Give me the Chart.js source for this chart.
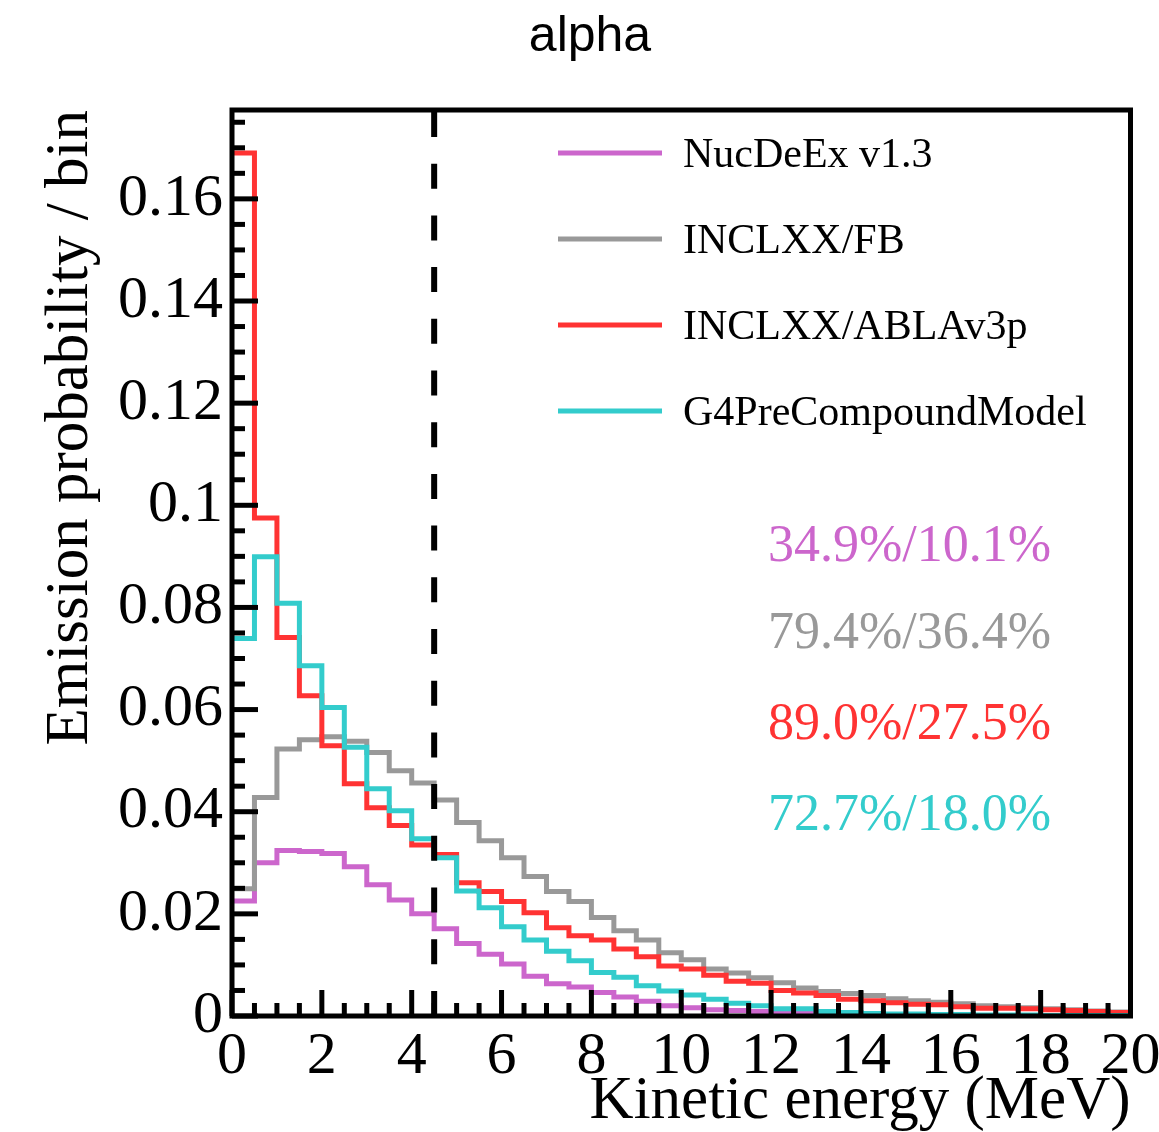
<!DOCTYPE html>
<html lang="en">
<head>
  <meta charset="UTF-8" />
  <title>alpha - emission probability</title>
  <style>
    html, body { margin: 0; padding: 0; background: #fff; }
    #wrap { width: 1159px; height: 1132px; }
  </style>
  <script src="https://cdn.jsdelivr.net/npm/chart.js"></script>
</head>
<body>
  <div id="wrap"><canvas id="alphaChart" width="1159" height="1132"></canvas></div>

  <script>
    // bin layout: 40 bins of 0.5 MeV from 0 to 20 MeV
    const xMin = 0;
    const xMax = 20;
    const binWidth = 0.5;
    const yMax = 0.1774;
    const cutEnergy = 4.5;

    const xTickValues = [0, 2, 4, 6, 8, 10, 12, 14, 16, 18, 20];
    const xTickLabels = ['0', '2', '4', '6', '8', '10', '12', '14', '16', '18', '20'];
    const yTickValues = [0, 0.02, 0.04, 0.06, 0.08, 0.1, 0.12, 0.14, 0.16];
    const yTickLabels = ['0', '0.02', '0.04', '0.06', '0.08', '0.1', '0.12', '0.14', '0.16'];

    const seriesNames = ['NucDeEx v1.3', 'INCLXX/FB', 'INCLXX/ABLAv3p', 'G4PreCompoundModel'];
    const seriesColors = ['#cc66cc', '#999999', '#ff3333', '#33cccc'];
    const effLabels = ['34.9%/10.1%', '79.4%/36.4%', '89.0%/27.5%', '72.7%/18.0%'];

    // emission probability per bin
    const nucdeex = [0.0225, 0.0300, 0.0324, 0.0322, 0.0318, 0.0292, 0.0257, 0.0227, 0.0200, 0.0171,
                     0.0142, 0.0121, 0.0102, 0.0078, 0.0063, 0.0057, 0.0046, 0.0037, 0.0029, 0.0020,
                     0.0016, 0.0012, 0.0011, 0.0009, 0.0007, 0.0005, 0.0004, 0.0003, 0.0003, 0.0002,
                     0.0002, 0.0002, 0.0001, 0.0001, 0.0001, 0.0001, 0.0001, 0.0001, 0.0000, 0.0000];
    const inclFB  = [0.0249, 0.0428, 0.0523, 0.0541, 0.0547, 0.0538, 0.0516, 0.0480, 0.0456, 0.0423,
                     0.0379, 0.0343, 0.0310, 0.0273, 0.0244, 0.0224, 0.0193, 0.0167, 0.0149, 0.0124,
                     0.0110, 0.0092, 0.0084, 0.0075, 0.0065, 0.0055, 0.0048, 0.0044, 0.0040, 0.0034,
                     0.0030, 0.0027, 0.0024, 0.0020, 0.0018, 0.0016, 0.0014, 0.0012, 0.0010, 0.0008];
    const inclABLA = [0.1690, 0.0975, 0.0741, 0.0627, 0.0529, 0.0455, 0.0408, 0.0373, 0.0335, 0.0316,
                      0.0261, 0.0244, 0.0224, 0.0202, 0.0173, 0.0157, 0.0149, 0.0131, 0.0116, 0.0098,
                      0.0092, 0.0080, 0.0068, 0.0064, 0.0050, 0.0045, 0.0040, 0.0033, 0.0030, 0.0026,
                      0.0023, 0.0022, 0.0018, 0.0015, 0.0015, 0.0014, 0.0012, 0.0011, 0.0009, 0.0007];
    const g4Pre   = [0.0739, 0.0899, 0.0808, 0.0686, 0.0604, 0.0526, 0.0445, 0.0402, 0.0347, 0.0310,
                     0.0245, 0.0212, 0.0175, 0.0149, 0.0127, 0.0108, 0.0085, 0.0076, 0.0059, 0.0049,
                     0.0041, 0.0033, 0.0025, 0.0020, 0.0014, 0.0014, 0.0009, 0.0007, 0.0005, 0.0004,
                     0.0004, 0.0003, 0.0003, 0.0002, 0.0002, 0.0002, 0.0001, 0.0001, 0.0001, 0.0001];

    const allSeries = [nucdeex, inclFB, inclABLA, g4Pre];

    // histogram as step line: one point per bin low edge plus closing point at xMax
    function toSteps(vals) {
      const pts = vals.map((v, i) => ({ x: xMin + i * binWidth, y: v }));
      pts.push({ x: xMax, y: vals[vals.length - 1] });
      return pts;
    }

    const serif = "'Liberation Serif', 'DejaVu Serif', serif";

    // ROOT-like frame, inward ticks, cut line, legend and labels
    const rootDecor = {
      id: 'rootDecor',
      afterDatasetsDraw(chart) {
        const { ctx, chartArea: a, scales: { x, y } } = chart;
        ctx.save();

        // dashed line at the cut energy
        const cx = x.getPixelForValue(cutEnergy);
        ctx.strokeStyle = '#000';
        ctx.lineWidth = 6;
        ctx.setLineDash([25, 26.7]);
        ctx.beginPath();
        ctx.moveTo(cx, a.top + 2);
        ctx.lineTo(cx, a.bottom);
        ctx.stroke();
        ctx.setLineDash([]);

        // ticks (inside, left + bottom)
        ctx.lineWidth = 5;
        for (let k = 0; k * 0.005 <= yMax + 1e-9; k++) {
          const py = y.getPixelForValue(k * 0.005);
          const len = k % 4 === 0 ? 26 : 13;
          ctx.beginPath();
          ctx.moveTo(a.left, py);
          ctx.lineTo(a.left + len, py);
          ctx.stroke();
        }
        for (let k = 0; k * binWidth <= xMax + 1e-9; k++) {
          const px = x.getPixelForValue(k * binWidth);
          const len = k % 4 === 0 ? 26 : 13;
          ctx.beginPath();
          ctx.moveTo(px, a.bottom);
          ctx.lineTo(px, a.bottom - len);
          ctx.stroke();
        }

        // frame
        ctx.lineWidth = 5;
        ctx.strokeRect(a.left, a.top, a.right - a.left, a.bottom - a.top);
        ctx.restore();
      },
      afterDraw(chart) {
        const { ctx } = chart;
        ctx.save();

        // title
        ctx.fillStyle = '#000';
        ctx.font = "50px 'Liberation Sans', Arial, sans-serif";
        ctx.textAlign = 'center';
        ctx.textBaseline = 'alphabetic';
        ctx.fillText('alpha', 590, 51);

        // legend
        const rowY = [153, 239, 325, 411];
        ctx.font = '42px ' + serif;
        ctx.textAlign = 'left';
        ctx.textBaseline = 'middle';
        seriesNames.forEach((name, i) => {
          ctx.strokeStyle = seriesColors[i];
          ctx.lineWidth = 5;
          ctx.beginPath();
          ctx.moveTo(558, rowY[i]);
          ctx.lineTo(662, rowY[i]);
          ctx.stroke();
          ctx.fillStyle = '#000';
          ctx.fillText(name, 683, rowY[i] + 3);
        });

        // efficiency labels
        const effY = [547, 634, 725, 816];
        ctx.font = '52px ' + serif;
        ctx.textAlign = 'right';
        effLabels.forEach((t, i) => {
          ctx.fillStyle = seriesColors[i];
          ctx.fillText(t, 1051, effY[i]);
        });
        ctx.restore();
      }
    };

    const datasets = allSeries.map((vals, i) => ({
      label: seriesNames[i],
      data: toSteps(vals),
      borderColor: seriesColors[i],
      backgroundColor: seriesColors[i],
      borderWidth: 5,
      stepped: 'before',
      pointRadius: 0,
      fill: false,
      order: 4 - i   // later series on top, like ROOT draw order
    }));

    const ctx = document.getElementById('alphaChart').getContext('2d');
    const chart = new Chart(ctx, {
      type: 'line',
      data: { datasets },
      options: {
        responsive: false,
        animation: false,
        devicePixelRatio: 1,
        layout: { padding: { top: 110, right: 28.5, bottom: 0, left: 0 } },
        plugins: {
          legend: { display: false },
          tooltip: { enabled: false },
          title: { display: false }
        },
        scales: {
          x: {
            type: 'linear',
            min: xMin,
            max: xMax,
            grid: { display: false, drawTicks: false },
            border: { display: false },
            afterBuildTicks: s => { s.ticks = xTickValues.map(v => ({ value: v })); },
            // fixed height; let the "20" label hang past the frame like in ROOT
            afterFit: s => { s.height = 116; s.paddingLeft = 0; s.paddingRight = 0; },
            ticks: {
              autoSkip: false,
              maxRotation: 0,
              padding: 11,
              color: '#000',
              font: { family: serif, size: 60, lineHeight: 1 },
              callback: (v, i) => xTickLabels[i]
            },
            title: {
              display: true,
              text: 'Kinetic energy (MeV)',
              align: 'end',
              color: '#000',
              font: { family: serif, size: 61, lineHeight: 1 },
              padding: { top: 0, bottom: 0 }
            }
          },
          y: {
            type: 'linear',
            min: 0,
            max: yMax,
            grid: { display: false, drawTicks: false },
            border: { display: false },
            afterBuildTicks: s => { s.ticks = yTickValues.map(v => ({ value: v })); },
            afterFit: s => { s.width = 232; },
            ticks: {
              autoSkip: false,
              padding: 9,
              color: '#000',
              font: { family: serif, size: 60, lineHeight: 1 },
              callback: (v, i) => yTickLabels[i]
            },
            title: {
              display: true,
              text: 'Emission probability / bin',
              align: 'end',
              color: '#000',
              font: { family: serif, size: 61, lineHeight: 1 },
              padding: { top: 40, bottom: 0 }
            }
          }
        }
      },
      plugins: [rootDecor]
    });
  </script>
</body>
</html>
